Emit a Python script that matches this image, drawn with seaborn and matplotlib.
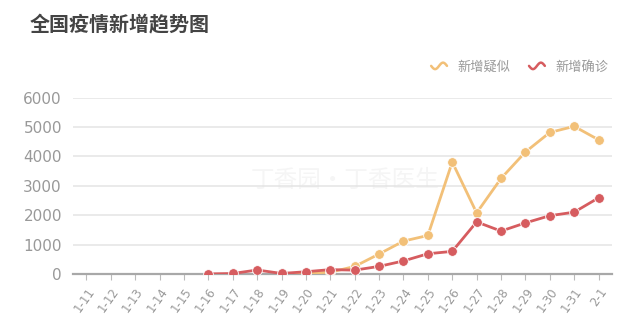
import numpy as np
import pandas as pd
import matplotlib
matplotlib.use("Agg")
import matplotlib.pyplot as plt
from matplotlib.legend_handler import HandlerBase
from matplotlib.lines import Line2D
import seaborn as sns

dates = ["1-11", "1-12", "1-13", "1-14", "1-15", "1-16", "1-17", "1-18", "1-19", "1-20", "1-21",
         "1-22", "1-23", "1-24", "1-25", "1-26", "1-27", "1-28", "1-29", "1-30", "1-31", "2-1"]
suspected = [np.nan, np.nan, np.nan, np.nan, np.nan, np.nan, np.nan, np.nan, 0, 27, 60,
             257, 680, 1118, 1309, 3806, 2077, 3248, 4148, 4812, 5019, 4562]
confirmed = [np.nan, np.nan, np.nan, np.nan, np.nan, 4, 17, 136, 19, 77, 149,
             131, 259, 444, 688, 769, 1771, 1459, 1737, 1982, 2102, 2590]
yticks = [0, 1000, 2000, 3000, 4000, 5000, 6000]
series_names = ["新增疑似", "新增确诊"]

YELLOW = "#f2c078"
RED = "#d65c5f"

sns.set_theme(style="white")
plt.rcParams["font.family"] = ["Noto Sans CJK SC", "DejaVu Sans"]

df = pd.DataFrame({"x": np.arange(len(dates)), "s": suspected, "c": confirmed})

fig = plt.figure(figsize=(6.41, 3.24), dpi=100)
ax = fig.add_axes([73 / 641, 1 - 274 / 324, (612 - 73) / 641, (274 - 97.5) / 324])

sns.lineplot(data=df, x="x", y="s", ax=ax, color=YELLOW, lw=2.0, marker="o",
             markersize=7, markeredgecolor="white", markeredgewidth=0.6, zorder=3)
sns.lineplot(data=df, x="x", y="c", ax=ax, color=RED, lw=2.0, marker="o",
             markersize=7, markeredgecolor="white", markeredgewidth=0.6, zorder=4)

ax.set_xlim(-0.55, len(dates) - 0.45)
ax.set_ylim(0, 6000)
ax.set_yticks(yticks)
ax.set_yticklabels([str(v) for v in yticks], color="#999999", fontsize=11,
                   family=["DejaVu Sans"])
ax.set_xticks(np.arange(len(dates)))
ax.set_xticklabels(dates, rotation=55, ha="right", va="top", rotation_mode="anchor",
                   color="#999999", fontsize=8.5, family=["DejaVu Sans"])
ax.tick_params(axis="y", length=0, pad=8)
ax.tick_params(axis="x", length=4, width=0.8, color="#bbbbbb", pad=4, direction="out", bottom=True)
ax.set_xlabel("")
ax.set_ylabel("")
for s in ["top", "right", "left"]:
    ax.spines[s].set_visible(False)
ax.spines["bottom"].set_color("#a8a8a8")
ax.spines["bottom"].set_linewidth(1.6)
ax.yaxis.grid(True, color="#e4e4e4", lw=1.1)
ax.set_axisbelow(True)

# watermark
ax.text(0.33, 0.53, "丁香园·丁香医生", transform=ax.transAxes, fontsize=17,
        color="#f5f5f5", ha="left", va="center", zorder=0)

fig.text(30 / 641, 1 - 25 / 324, "全国疫情新增趋势图", fontsize=14.4, color="#444444",
         fontweight="bold", ha="left", va="center")


class WaveHandler(HandlerBase):
    def create_artists(self, legend, orig_handle, xdescent, ydescent, width, height,
                       fontsize, trans):
        t = np.linspace(0, 1, 40)
        xs = t * width
        ys = height / 2 + np.sin(t * 2 * np.pi + np.pi) * height * 0.35
        line = Line2D(xs, ys, color=orig_handle.get_color(), lw=1.8, transform=trans)
        return [line]


handles = [Line2D([], [], color=YELLOW), Line2D([], [], color=RED)]
leg = fig.legend(handles, series_names, handler_map={Line2D: WaveHandler()},
                 loc="center right", bbox_to_anchor=(615 / 641, 1 - 67 / 324),
                 ncol=2, frameon=False, fontsize=9.5, handlelength=1.2,
                 handletextpad=0.8, columnspacing=1.4, borderpad=0)
for t in leg.get_texts():
    t.set_color("#999999")

fig.savefig("out.png", dpi=100, facecolor="white")
